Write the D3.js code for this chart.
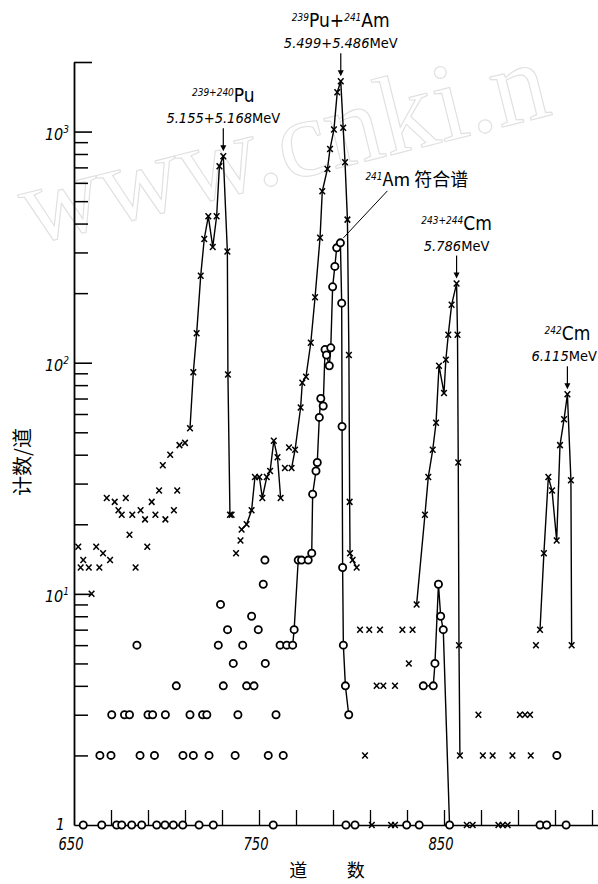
<!DOCTYPE html>
<html>
<head>
<meta charset="utf-8">
<script src="https://cdn.jsdelivr.net/npm/d3@7/dist/d3.min.js"></script>
<style>
  body { margin: 0; background: #fff; }
  svg { display: block; background: #fff; }
</style>
</head>
<body>
<svg id="chart"></svg>
<script>
// total spectrum (x marks), points not joined by a line  [channel, counts]
var totalScatter = [
    [652.3,16],[653.6,13],[655,14],[658,13],[659.5,10],[662,16],[663.7,13],[665.7,15],[667.7,26],[669.5,14],
    [672,25],[674,23],[675.8,22],[678,26],[680,18],[681.5,22],[683.3,13],[686,23],[688.4,21],[689.6,16],
    [692,25],[694,22],[696,28],[698,36],[699.4,21],[702,40],[704,23],[705.8,28],[707,44],[710,45],
    [737.6,15],[740,17],[764,35],[766.2,43],
    [804.6,7],[807.3,2],[809.6,7],[811,1],[813.6,4],[815.4,7],[817.2,4],[821.4,1],[823.5,4],[823.5,1],
    [827.5,7],[831,5],[833,7],
    [862.3,1],[865.5,1],[868.6,3],[871,2],[876.3,2],[879.4,1],[881.7,1],[884.4,1],[887,2],[891,3],
    [893.8,3],[896.5,3],[896.9,2],[899.7,6]
]

// total spectrum, runs joined by a line
var puPeak = [[712.7,52],[714.5,91],[716.3,134],[718.5,238],[720.4,343],[722.6,430],[725,317],[727.1,430],
              [728.6,708],[730.7,782],[732.9,303],[733.2,89],[734.3,22],[735.2,22]]
var valleyRun = [[740.6,19],[743.3,20],[746,23],[747.8,32],[750.2,32],[751.8,26],[754.2,32],[756,34],
                 [758,46],[760,39],[761.7,26]]
var amPeak = [[767.6,35],[769.5,42],[772.5,64],[773.4,82],[775.4,87],[778,122],[780.3,192],[783,347],
              [784.2,552],[787,689],[788.4,841],[790.5,1020],[792.3,1480],[794.2,1650],[795.5,1040],
              [796.5,736],[797.8,416],[798.6,108],[799,25],[799.2,15],[800.6,14],[802.8,13]]
var cmPeak = [[835.2,9],[839.7,22],[841.5,32],[843.9,42],[845.7,55],[847.3,97],[850,74],[851,103],
              [852.3,132],[854.1,178],[856.8,220],[857.3,132],[857.7,37],[858.1,6],[858.6,2]]
var cm242Peak = [[901.9,7],[904,15],[906.4,32],[908.4,28],[910.9,17],[912.7,44],[914.9,57],[916.7,73],
                 [918.6,31],[919,6]]

// 241Am coincidence spectrum (o marks)
var coincScatter = [
    [655,1],[665,1],[673,1],[675.8,1],[681.2,1],[686.6,1],[694.7,1],[699.2,1],[703.7,1],[708.8,1],
    [717.6,1],[725.3,1],[757.7,1],[797,1],[801.9,1],[829.8,1],[836.6,1],[901.9,1],[905.5,1],[916,1],
    [664,2],[670,2],[685.7,2],[693.5,2],[708.9,2],[714.5,2],[723,2],[737.1,2],[755,2],[763.1,2],[911,2],
    [670.4,3],[677.3,3],[680,3],[690,3],[692.5,3],[699.4,3],[712.7,3],[719.5,3],[721.8,3],[738.6,3],[759.2,3],
    [705.3,4],[730.7,4],[743.3,4],[747.3,4],
    [736.1,5],[753.4,5],
    [684,6],[728,6],[741.2,6],[761.4,6],[765,6],
    [733,7],[749.6,7],[746,8],[729.2,9],[752.3,11],[753.2,14]
]
var amCoinc = [[768.2,6],[769,7],[771.2,14],[773,14],[776.6,14],[778.5,15],[779,27],[780.8,34],[781.5,37],
               [782.6,58],[783.4,70],[784.7,65],[785.7,114],[786.5,108],[788,97],[788.8,116],[789.8,213],
               [791,261],[792,314],[794,330],[794.7,181],[794.9,53],[795.2,13],[795.6,6],[796.7,4],[798.5,3]]
var cmCoinc = [[838.8,4],[844.2,4],[845.1,5],[847,11],[848.2,8],[849.6,7],[853,1]]

var channelTicks = [650, 750, 850]
var channelMinor = d3.range(670, 931, 20)
var countTicks = [1, 10, 100, 1000]
var countExp = ["", "1", "2", "3"]

var peakLabels = [
    {parts: [["239+240", true], ["Pu", false]], energy: "5.155+5.168", at: [730.7, 782]},
    {parts: [["239", true], ["Pu+", false], ["241", true], ["Am", false]], energy: "5.499+5.486", at: [794.2, 1650]},
    {parts: [["243+244", true], ["Cm", false]], energy: "5.786", at: [856.8, 220]},
    {parts: [["242", true], ["Cm", false]], energy: "6.115", at: [916.7, 73]}
]
var coincLabel = {iso: "241", text: "Am 符合谱", at: [794, 330]}

var dimensions = {
    width: 598,
    height: 884,
    margin: { top: 62, bottom: 59, left: 74, right: 0 }
}

var narrow = "'Liberation Sans Narrow', 'DejaVu Sans Condensed', 'Arial Narrow', sans-serif"
var numFont = "'DejaVu Sans Condensed', 'Liberation Sans Narrow', sans-serif"
var cjk = "'Noto Sans CJK SC', 'Noto Sans CJK JP', sans-serif"

var svg = d3.select("#chart")
            .attr("width", dimensions.width)
            .attr("height", dimensions.height)

var x = d3.scaleLinear()
          .domain([650, 933.24])
          .range([dimensions.margin.left, dimensions.width])

var y = d3.scaleLog()
          .domain([1, 2000])
          .range([dimensions.height - dimensions.margin.bottom, dimensions.margin.top])

// faint watermark of the scanned page
svg.append("text")
   .attr("transform", "translate(30,245) rotate(-14)")
   .attr("font-family", "'Liberation Serif', serif")
   .attr("font-size", 112)
   .attr("fill", "none")
   .attr("stroke", "#e0e0e0")
   .attr("stroke-width", 1.1)
   .text("www.cnki.n")

var y0 = y(1)

// y axis: long ticks at decades, short ticks between
var minorCounts = []
countTicks.forEach(d => { d3.range(2, 10).forEach(k => { if (d * k < 2000) minorCounts.push(d * k) }) })

svg.append("g")
   .attr("transform", `translate(${dimensions.margin.left},0)`)
   .call(d3.axisRight(y).tickValues([10, 100, 1000, 2000]).tickSize(18).tickSizeOuter(0).tickFormat(""))
   .call(g => g.selectAll("line").attr("stroke-width", 1.6))
   .call(g => g.select(".domain").attr("stroke-width", 1.8))

svg.append("g")
   .attr("transform", `translate(${dimensions.margin.left},0)`)
   .call(d3.axisRight(y).tickValues(minorCounts).tickSize(14).tickSizeOuter(0).tickFormat(""))
   .call(g => g.select(".domain").remove())
   .call(g => g.selectAll("line").attr("stroke-width", 1.5))

// x axis: ticks pointing up into the plot
svg.append("g")
   .attr("transform", `translate(0,${y0})`)
   .call(d3.axisTop(x).tickValues(channelMinor).tickSize(15).tickSizeOuter(0).tickFormat(""))
   .call(g => g.selectAll("line").attr("stroke-width", 1.3))
   .call(g => g.select(".domain").attr("stroke-width", 1.6))

// tick labels
var yLabels = svg.append("g")
                 .selectAll("text")
                 .data(countTicks)
                 .enter()
                 .append("text")
                 .attr("x", d => d == 1 ? 65 : 69)
                 .attr("y", d => y(d) + (d == 1 ? 5 : 8))
                 .attr("text-anchor", "end")
                 .attr("font-family", numFont)
                 .attr("font-style", "italic")
                 .attr("font-size", 16)

yLabels.append("tspan").text(d => d == 1 ? "1" : "10")
yLabels.append("tspan")
       .attr("dy", -7)
       .attr("font-size", 10)
       .text((d, i) => countExp[i])

svg.append("g")
   .selectAll("text")
   .data(channelTicks)
   .enter()
   .append("text")
   .attr("x", d => x(d) - 3)
   .attr("y", 850)
   .attr("text-anchor", "middle")
   .attr("font-family", numFont)
   .attr("font-style", "italic")
   .attr("font-size", 18)
   .attr("textLength", 25)
   .attr("lengthAdjust", "spacingAndGlyphs")
   .text(d => d)

// axis titles
svg.append("text")
   .attr("transform", "translate(30,462) rotate(-90)")
   .attr("text-anchor", "middle")
   .attr("font-family", cjk)
   .attr("font-size", 20)
   .text("计数/道")

svg.append("text")
   .attr("x", 327)
   .attr("y", 877)
   .attr("text-anchor", "middle")
   .attr("font-family", cjk)
   .attr("font-size", 18)
   .text("道\u3000\u3000\u2009数")

// joined runs
var line = d3.line()
             .x(d => x(d[0]))
             .y(d => y(d[1]))

svg.append("g")
   .selectAll("path")
   .data([puPeak, valleyRun, amPeak, cmPeak, cm242Peak, amCoinc, cmCoinc])
   .enter()
   .append("path")
   .attr("d", d => line(d))
   .attr("fill", "none")
   .attr("stroke", "black")
   .attr("stroke-width", 1.4)

// x marks
var allCrosses = totalScatter.concat(puPeak, valleyRun, amPeak, cmPeak, cm242Peak)

svg.append("g")
   .selectAll("path")
   .data(allCrosses)
   .enter()
   .append("path")
   .attr("transform", d => `translate(${x(d[0])},${y(d[1])})`)
   .attr("d", "M-2.8,-3L2.8,3M2.8,-3L-2.8,3")
   .attr("stroke", "black")
   .attr("stroke-width", 1.5)

// o marks
var allCircles = coincScatter.concat(amCoinc, cmCoinc)

svg.append("g")
   .selectAll("circle")
   .data(allCircles)
   .enter()
   .append("circle")
   .attr("cx", d => x(d[0]))
   .attr("cy", d => y(d[1]))
   .attr("r", 3.6)
   .attr("fill", "white")
   .attr("stroke", "black")
   .attr("stroke-width", 1.8)

// peak annotations with arrows
var peaks = svg.append("g")
               .selectAll("g")
               .data(peakLabels)
               .enter()
               .append("g")
               .attr("transform", d => `translate(${x(d.at[0])},${y(d.at[1])})`)

peaks.append("line")
     .attr("x1", 0).attr("x2", 0)
     .attr("y1", -28).attr("y2", -9)
     .attr("stroke", "black")
     .attr("stroke-width", 1.2)

peaks.append("path")
     .attr("d", "M-3,-11L3,-11L0,-5Z")
     .attr("fill", "black")

var energy = peaks.append("text")
                  .attr("y", -33)
                  .attr("text-anchor", "middle")
                  .attr("font-family", numFont)
                  .attr("font-size", 14.5)
energy.append("tspan").attr("font-style", "italic").text(d => d.energy)
energy.append("tspan").attr("font-family", narrow).text("MeV")

// keep the energy text inside the page (the 242Cm one sits at the right edge)
energy.each(function(d) {
    var box = this.getBBox()
    var right = x(d.at[0]) + box.x + box.width
    if (right > dimensions.width - 1) {
        d3.select(this).attr("x", dimensions.width - 1 - right)
    }
})

var element = peaks.append("text")
                   .attr("y", -54)
                   .attr("text-anchor", "middle")
                   .attr("font-family", narrow)
                   .attr("font-size", 19)

element.selectAll("tspan")
       .data(d => d.parts)
       .enter()
       .append("tspan")
       .attr("font-size", p => p[1] ? 10 : 19)
       .attr("font-style", p => p[1] ? "italic" : "normal")
       .attr("baseline-shift", p => p[1] ? "65%" : null)
       .text(p => p[0])

// leader to the coincidence spectrum
var cx0 = x(coincLabel.at[0]), cy0 = y(coincLabel.at[1])

svg.append("line")
   .attr("x1", cx0 + 3).attr("y1", cy0 - 5)
   .attr("x2", cx0 + 47).attr("y2", cy0 - 52)
   .attr("stroke", "black")
   .attr("stroke-width", 1)

var coincText = svg.append("text")
                   .attr("x", cx0 + 25)
                   .attr("y", cy0 - 57)
                   .attr("font-family", narrow)
                   .attr("font-size", 18)
coincText.append("tspan")
         .attr("font-size", 10)
         .attr("font-style", "italic")
         .attr("baseline-shift", "65%")
         .text(coincLabel.iso)
coincText.append("tspan")
         .attr("font-family", cjk)
         .attr("font-size", 18)
         .text(coincLabel.text)
</script>
</body>
</html>
